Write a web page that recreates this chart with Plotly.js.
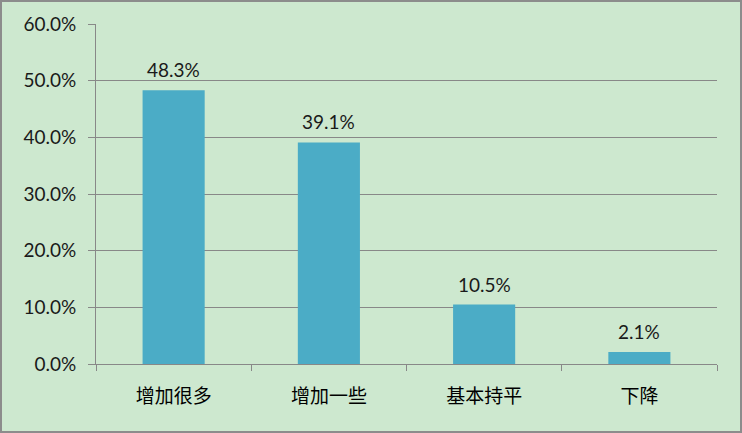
<!DOCTYPE html>
<html><head><meta charset="utf-8">
<script src="https://cdn.plot.ly/plotly-3.0.1.min.js"></script>
<style>
html,body{margin:0;padding:0;background:#cde8cf;}
#c{width:738px;height:429px;border:2px solid #8c8c8c;}
</style></head>
<body><div id="c"></div>
<script>
const categories = ['增加很多','增加一些','基本持平','下降'];
const values = [0.483, 0.391, 0.105, 0.021];
const labels = ['48.3%','39.1%','10.5%','2.1%'];

const bg = '#cde8cf';
const gridColor = '#888888';
const trace = {
  type: 'bar', x: categories, y: values,
  marker: {color: '#4bacc6'},
  hoverinfo: 'none'
};
const annotations = categories.map((c, i) => ({
  x: c, y: values[i], text: labels[i], showarrow: false,
  xref: 'x', yref: 'y', yanchor: 'bottom', yshift: 7,
  font: {family: 'Lato, "Open Sans", sans-serif', size: 19, color: '#1a1a1a'}
}));
const layout = {
  width: 738, height: 429,
  margin: {l: 94, r: 23, t: 22, b: 67},
  paper_bgcolor: bg, plot_bgcolor: bg,
  bargap: 0.6,
  showlegend: false,
  xaxis: {
    showline: true, linecolor: gridColor, linewidth: 1,
    ticks: 'outside', tickson: 'boundaries', ticklen: 6, tickcolor: gridColor,
    ticklabelstandoff: 15,
    tickfont: {family: '"Noto Sans CJK SC", sans-serif', size: 19, color: '#000'},
    showgrid: false, zeroline: false
  },
  yaxis: {
    range: [0, 0.6], dtick: 0.1, tickformat: '.1%',
    showline: true, linecolor: gridColor, linewidth: 1,
    showgrid: true, gridcolor: gridColor, gridwidth: 1,
    ticks: 'outside', ticklen: 7, tickcolor: gridColor,
    ticklabelstandoff: 8,
    tickfont: {family: 'Lato, "Open Sans", sans-serif', size: 19, color: '#1a1a1a'},
    zeroline: false
  },
  annotations: annotations
};
Plotly.newPlot('c', [trace], layout, {displayModeBar: false, staticPlot: true});
</script></body></html>
